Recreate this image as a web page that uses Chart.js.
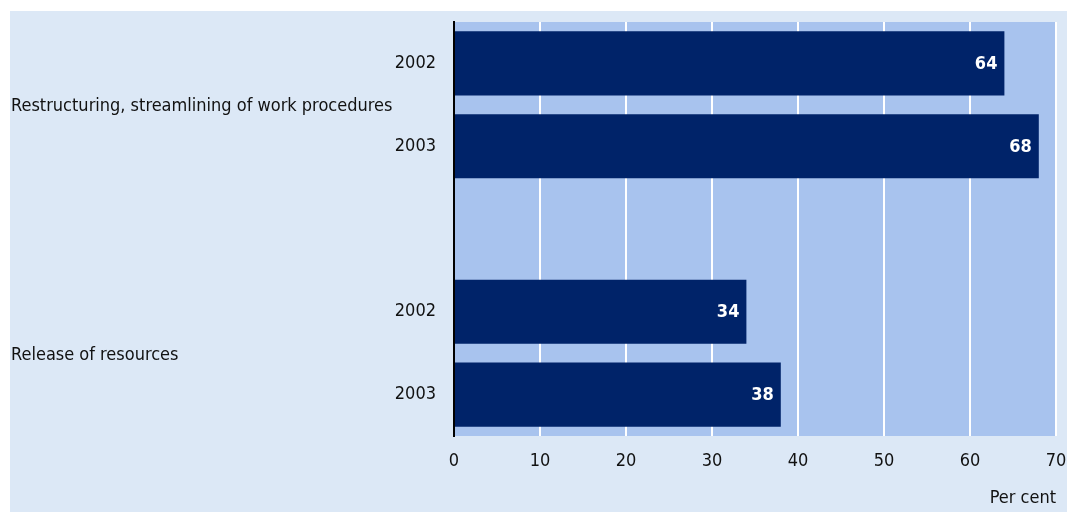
<!DOCTYPE html>
<html>
<head>
<meta charset="utf-8">
<script src="https://cdn.jsdelivr.net/npm/chart.js@4/dist/chart.umd.min.js"></script>
<style>
  html, body { margin: 0; padding: 0; background: #ffffff; }
  #wrap { width: 1067px; height: 512px; }
</style>
</head>
<body>
<div id="wrap"><canvas id="measuresChart" width="1067" height="512"></canvas></div>
<script>
// Data
const yearLabels = ['2002', '2003', '', '2002', '2003'];
const groupLabels = ['Restructuring, streamlining of work procedures', 'Release of resources'];
const groupRows = [[0, 1], [3, 4]]; // which rows belong to each group
const shareValues = [64, 68, null, 34, 38];
const xTicks = [0, 10, 20, 30, 40, 50, 60, 70];

const FONT = "'DejaVu Sans Condensed', 'Liberation Sans Narrow', sans-serif";
const FONT_SIZE = 18;
const outerBg = '#dce8f6';
const plotBg = '#a8c3ee';
const barColor = '#002369';

// background panel + plot area fill
const backgroundPlugin = {
    id: 'backgrounds',
    beforeDraw(chart) {
        const c = chart.ctx;
        const a = chart.chartArea;
        c.save();
        c.fillStyle = outerBg;
        c.fillRect(10, 11, chart.width - 10, chart.height - 11);
        c.fillStyle = plotBg;
        c.fillRect(a.left, a.top, a.right - a.left, a.bottom - a.top);
        c.restore();
    }
};

// value labels inside bar ends + group names on the left
const labelsPlugin = {
    id: 'labels',
    afterDatasetsDraw(chart) {
        const c = chart.ctx;
        const meta = chart.getDatasetMeta(0);
        c.save();
        c.font = 'bold ' + FONT_SIZE + 'px ' + FONT;
        c.fillStyle = '#ffffff';
        c.textAlign = 'right';
        c.textBaseline = 'middle';
        meta.data.forEach((bar, i) => {
            const v = shareValues[i];
            if (v === null) return;
            c.fillText(String(v), bar.x - 7, bar.y + 1);
        });

        const yScale = chart.scales.y;
        c.font = FONT_SIZE + 'px ' + FONT;
        c.fillStyle = '#111111';
        c.textAlign = 'left';
        groupLabels.forEach((name, g) => {
            const rows = groupRows[g];
            const y = (yScale.getPixelForValue(rows[0]) + yScale.getPixelForValue(rows[rows.length - 1])) / 2;
            c.fillText(name, 11, y + 2);
        });
        c.restore();
    }
};

// no extra room for overhanging tick labels
function noPad(scale) {
    scale.paddingLeft = 0;
    scale.paddingRight = 0;
    scale.paddingTop = 0;
    scale.paddingBottom = 0;
}

const ctx = document.getElementById('measuresChart').getContext('2d');
const measuresChart = new Chart(ctx, {
    type: 'bar',
    data: {
        labels: yearLabels,
        datasets: [{
            data: shareValues,
            backgroundColor: barColor,
            borderWidth: 0,
            barPercentage: 0.86,
            categoryPercentage: 0.9
        }]
    },
    options: {
        indexAxis: 'y',
        responsive: false,
        animation: false,
        layout: { padding: { left: 0, top: 22, right: 11, bottom: 0 } },
        plugins: {
            legend: { display: false },
            tooltip: { enabled: false }
        },
        scales: {
            x: {
                min: 0,
                max: 70,
                afterFit(scale) { scale.height = 76; noPad(scale); },
                afterBuildTicks(scale) { scale.ticks = xTicks.map(v => ({ value: v })); },
                grid: {
                    color: ctx => ctx.tick && ctx.tick.value === 0 ? 'rgba(0,0,0,0)' : '#ffffff',
                    lineWidth: 2,
                    drawTicks: false
                },
                border: { display: false },
                ticks: {
                    padding: 15,
                    color: '#111111',
                    font: { family: FONT, size: FONT_SIZE }
                },
                title: {
                    display: true,
                    text: 'Per cent',
                    align: 'end',
                    color: '#111111',
                    font: { family: FONT, size: FONT_SIZE },
                    padding: { top: 0, bottom: 3 }
                }
            },
            y: {
                afterFit(scale) { scale.width = 454; noPad(scale); },
                grid: { display: false, drawTicks: false },
                border: { display: true, color: '#000000', width: 2 },
                ticks: {
                    padding: 18,
                    color: '#111111',
                    font: { family: FONT, size: FONT_SIZE }
                }
            }
        }
    },
    plugins: [backgroundPlugin, labelsPlugin]
});
</script>
</body>
</html>
